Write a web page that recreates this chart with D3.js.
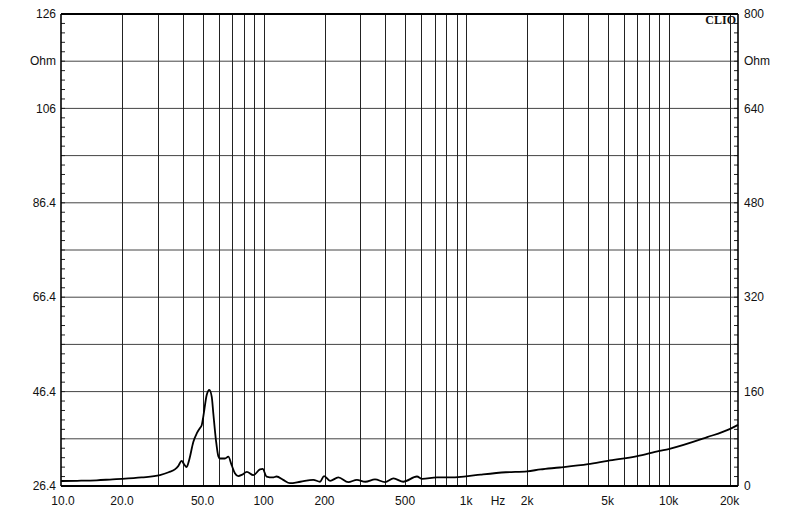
<!DOCTYPE html>
<html>
<head>
<meta charset="utf-8">
<script src="https://cdn.jsdelivr.net/npm/d3@7/dist/d3.min.js"></script>
<style>
  html, body { margin: 0; padding: 0; background: #fff; }
  svg { display: block; }
  text { font-family: Arial, "Liberation Sans", sans-serif; font-size: 12px; fill: #111; }
</style>
</head>
<body>
<svg id="chart" width="800" height="515"></svg>
<script>
// ---- data ----
const freqs = [10, 12, 15, 18, 20, 25, 30.8, 34, 36.5, 37.9, 39.4, 40.5, 41.7, 43, 45, 46.8, 48.5, 49.5, 50.4, 52.4, 54, 55.5, 56.5, 58.2, 59.8, 60.9, 64.5, 67, 69.6, 72.2, 75, 78.5, 82.7, 89, 96, 99, 103.5, 111, 116, 125, 135, 152, 176, 190, 199, 213, 234, 262, 289, 318, 355, 398, 438, 490, 572, 607, 718, 839, 975, 1180, 1570, 2000, 2330, 2900, 4000, 5000, 7000, 9000, 10000, 15500, 20000, 22000];
const ohms = [27.45, 27.5, 27.6, 27.8, 27.9, 28.2, 28.7, 29.3, 29.9, 30.6, 31.7, 31.0, 30.4, 32.0, 35.7, 37.5, 38.6, 39.2, 41.0, 45.6, 46.7, 45.2, 41.7, 36.1, 32.7, 32.2, 32.2, 32.6, 30.8, 29.1, 28.5, 28.8, 29.4, 28.7, 29.9, 30.0, 28.4, 28.2, 28.4, 27.7, 27.0, 27.3, 27.7, 27.3, 28.5, 27.5, 28.2, 27.2, 27.7, 27.3, 27.8, 27.2, 28.0, 27.3, 28.4, 27.9, 28.2, 28.2, 28.4, 28.8, 29.3, 29.5, 29.9, 30.3, 31.0, 31.7, 32.7, 33.8, 34.2, 36.7, 38.4, 39.3];
const leftLabels = ["126", "Ohm", "106", "", "86.4", "", "66.4", "", "46.4", "", "26.4"];
const rightLabels = ["800", "Ohm", "640", "", "480", "", "320", "", "160", "", "0"];
const xGrid = [20, 30, 40, 50, 60, 70, 80, 90, 100, 200, 300, 400, 500, 600, 700, 800, 900, 1000, 2000, 3000, 4000, 5000, 6000, 7000, 8000, 9000, 10000, 20000];
const xTickVals = [10, 20, 50, 100, 200, 500, 1000, 2000, 5000, 10000, 20000];
const xTickText = ["10.0", "20.0", "50.0", "100", "200", "500", "1k", "2k", "5k", "10k", "20k"];
const yDomain = [26.4, 126];
const xDomain = [10, 22000];

// ---- layout ----
const L = 61, R = 738, T = 14, B = 486;
const svg = d3.select("#chart");

const x = d3.scaleLog().domain(xDomain).range([L, R]);
const y = d3.scaleLinear().domain(yDomain).range([B, T]);
const div = d3.scaleLinear().domain([0, 10]).range([T, B]);

// grid: horizontal
svg.append("g").selectAll("line").data(d3.range(1, 10)).join("line")
  .attr("x1", L).attr("x2", R)
  .attr("y1", d => div(d)).attr("y2", d => div(d))
  .attr("stroke", "#444").attr("stroke-width", 1);

// grid: vertical
svg.append("g").selectAll("line").data(xGrid).join("line")
  .attr("x1", d => Math.round(x(d)) + 0.5).attr("x2", d => Math.round(x(d)) + 0.5)
  .attr("y1", T).attr("y2", B)
  .attr("stroke", "#222").attr("stroke-width", 1);

// minor ticks on left and right axes
const minor = d3.range(0, 51).map(i => i / 5);
svg.append("g").selectAll("line").data(minor).join("line")
  .attr("x1", L).attr("x2", L + 4)
  .attr("y1", d => div(d)).attr("y2", d => div(d))
  .attr("stroke", "#222").attr("stroke-width", 1);
svg.append("g").selectAll("line").data(minor).join("line")
  .attr("x1", R - 4).attr("x2", R)
  .attr("y1", d => div(d)).attr("y2", d => div(d))
  .attr("stroke", "#222").attr("stroke-width", 1);

// frame
svg.append("line").attr("x1", L).attr("x2", L).attr("y1", T).attr("y2", B).attr("stroke", "#000").attr("stroke-width", 1.6);
svg.append("line").attr("x1", R).attr("x2", R).attr("y1", T).attr("y2", B).attr("stroke", "#000").attr("stroke-width", 1.6);
svg.append("line").attr("x1", L).attr("x2", R).attr("y1", T).attr("y2", T).attr("stroke", "#000").attr("stroke-width", 2);
svg.append("line").attr("x1", L).attr("x2", R).attr("y1", B).attr("y2", B).attr("stroke", "#000").attr("stroke-width", 2);

// curve
const line = d3.line()
  .x((d, i) => x(freqs[i]))
  .y(d => y(d))
  .curve(d3.curveMonotoneX);
svg.append("path").datum(ohms)
  .attr("d", line)
  .attr("fill", "none").attr("stroke", "#000").attr("stroke-width", 1.8)
  .attr("stroke-linejoin", "round");

// left labels
svg.append("g").selectAll("text").data(leftLabels).join("text")
  .attr("x", 56).attr("y", (d, i) => div(i))
  .attr("dy", "0.35em").attr("text-anchor", "end")
  .text(d => d);

// right labels
svg.append("g").selectAll("text").data(rightLabels).join("text")
  .attr("x", 744).attr("y", (d, i) => div(i))
  .attr("dy", "0.35em").attr("text-anchor", "start")
  .text(d => d);

// x labels
svg.append("g").selectAll("text").data(xTickVals).join("text")
  .attr("x", (d, i) => x(d) + (i === 0 ? 2 : 0)).attr("y", 501)
  .attr("dy", "0.35em").attr("text-anchor", "middle")
  .text((d, i) => xTickText[i]);
svg.append("text").attr("x", 498).attr("y", 501).attr("dy", "0.35em")
  .attr("text-anchor", "middle").text("Hz");

// CLIO mark
svg.append("text").attr("x", 736).attr("y", 24).attr("text-anchor", "end")
  .style("font-family", "'Liberation Serif', 'DejaVu Serif', serif")
  .style("font-weight", "bold").style("font-size", "12px")
  .text("CLIO");
</script>
</body>
</html>
